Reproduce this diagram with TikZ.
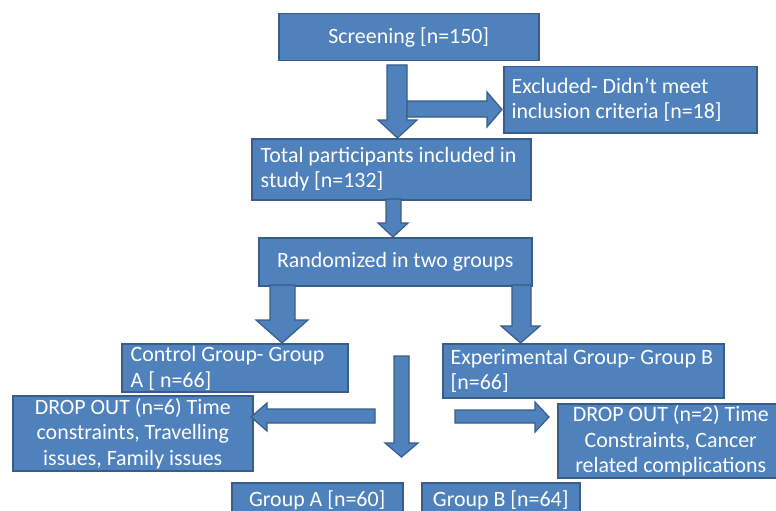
\documentclass[tikz,border=0pt]{standalone}
\usepackage{fontspec}
\setmainfont{Carlito}
\definecolor{boxfill}{HTML}{4F81BD}
\definecolor{boxline}{HTML}{385D8A}
\tikzset{
  fbox/.style={draw=boxline, fill=boxfill, line width=1.5pt, text=white,
    inner ysep=0pt, inner xsep=0pt, anchor=north west,
    font=\fontsize{21.9}{25.5}\selectfont},
  cbox/.style={fbox, align=center},
  ltxt/.style={text=white, inner sep=0pt, anchor=west, align=left,
    font=\fontsize{21.9}{25.5}\selectfont},
  barrow/.style={draw=boxline, fill=boxfill, line width=1.2pt, line join=miter}
}
\newcommand{\vblock}[7]{\draw[barrow] (#1,#3) -- (#2,#3) -- (#2,#4) -- (#6,#4) -- ({(#5+#6)/2},#7) -- (#5,#4) -- (#1,#4) -- cycle;}
\newcommand{\hblock}[7]{\draw[barrow] (#1,#3) -- (#2,#3) -- (#2,#5) -- (#7,{(#5+#6)/2}) -- (#2,#6) -- (#2,#4) -- (#1,#4) -- cycle;}
\begin{document}
\begin{tikzpicture}[x=1pt,y=-1pt]
\useasboundingbox (0,0) rectangle (776,511);
\fill[white] (0,0) rectangle (776,511);
% boxes
\node[cbox, minimum width=260pt, minimum height=47pt] (scr) at (278,13) {Screening [n=150]};
\node[fbox, minimum width=253pt, minimum height=66pt] (exc) at (503,66) {};
\node[ltxt] (exct) at ([xshift=8.5pt]exc.west) {Excluded- Didn’t meet\\inclusion criteria [n=18]};
\node[fbox, minimum width=279pt, minimum height=61pt] (tot) at (251,138) {};
\node[ltxt] (tott) at ([xshift=9.5pt]tot.west) {Total participants included in\\study [n=132]};
\node[cbox, minimum width=273pt, minimum height=48pt] (rnd) at (258,237) {Randomized in two groups};
\node[fbox, minimum width=226pt, minimum height=48pt] (ctl) at (121,343) {};
\node[ltxt] (ctlt) at ([xshift=9.5pt,yshift=-0.5pt]ctl.west) {Control Group- Group\\A [ n=66]};
\node[fbox, minimum width=281pt, minimum height=54pt] (exp) at (442,343) {};
\node[ltxt] (expt) at ([xshift=8.5pt]exp.west) {Experimental Group- Group B\\{}[n=66]};
\node[cbox, minimum width=240pt, minimum height=75pt] (dol) at (12,395) {DROP OUT (n=6) Time\\constraints, Travelling\\issues, Family issues};
\node[cbox, minimum width=226pt, minimum height=74pt] (dor) at (557,403) {DROP OUT (n=2) Time\\Constraints, Cancer\\related complications};
\node[cbox, minimum width=171pt, minimum height=36pt] (ga) at (231,482) {Group A [n=60]};
\node[cbox, minimum width=158pt, minimum height=36pt] (gb) at (421,482) {Group B [n=64]};
% block arrows
\vblock{387}{407}{65}{120}{378}{417}{138}
\hblock{407}{487}{101}{117}{92}{127}{502}
\vblock{386}{401}{199}{223}{378}{408}{237}
\vblock{270}{295}{285}{320}{256}{308}{343}
\vblock{512}{531}{285}{326}{501}{540}{343}
\vblock{394}{409}{356}{443}{385}{418}{457}
\hblock{375}{267}{409}{423}{403}{431}{251}
\hblock{455}{535}{410}{423}{402}{432}{549}
\end{tikzpicture}
\end{document}
